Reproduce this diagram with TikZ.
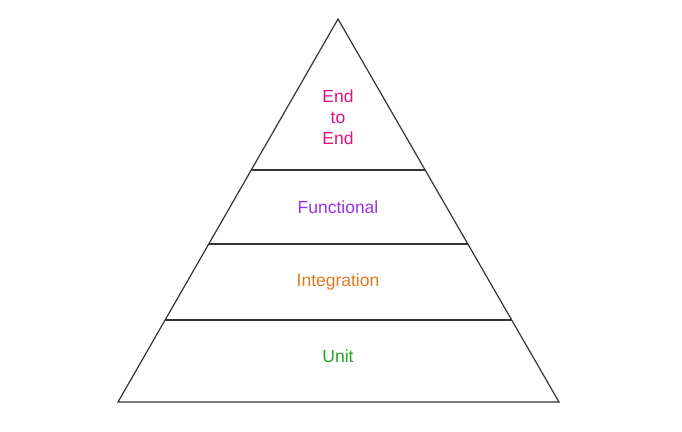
\documentclass[tikz,border=0pt]{standalone}
\usepackage{fontspec}
\setmainfont{Liberation Sans}
\usetikzlibrary{calc}
\definecolor{eecor}{HTML}{E2107E}
\definecolor{funcor}{HTML}{9234EA}
\definecolor{intcor}{HTML}{E07A22}
\definecolor{unitcor}{HTML}{1FA51F}
\tikzset{edge/.style={color=#1,line width=1.2pt},edge/.default=black!80}
\tikzset{nivel/.style={color=#1,align=center,font=\fontsize{17.5}{21}\selectfont},nivel/.default=black}

\begin{document}
\begin{tikzpicture}[x=1pt,y=-1pt]
	\useasboundingbox (0,0) rectangle (682,431);
	\coordinate (topo) at (338,19);
	\coordinate (esq) at (118,402);
	\coordinate (dir) at (559,402);

	% A piramide
	\draw [edge] (esq) -- (topo) -- (dir) -- cycle;

	% As divisoes
	\draw [edge] ($(esq)!0.606!(topo)$) -- ($(dir)!0.606!(topo)$);
	\draw [edge] ($(esq)!0.4125!(topo)$) -- ($(dir)!0.4125!(topo)$);
	\draw [edge] ($(esq)!0.214!(topo)$) -- ($(dir)!0.214!(topo)$);

	% Os niveis
	\node [nivel=eecor] (ee) at (338,117) {End\\to\\End};
	\node [nivel=funcor] (func) at (338,207) {Functional};
	\node [nivel=intcor] (integ) at (338,282) {Integration};
	\node [nivel=unitcor] (unit) at (338,356) {Unit};

\end{tikzpicture}
\end{document}
